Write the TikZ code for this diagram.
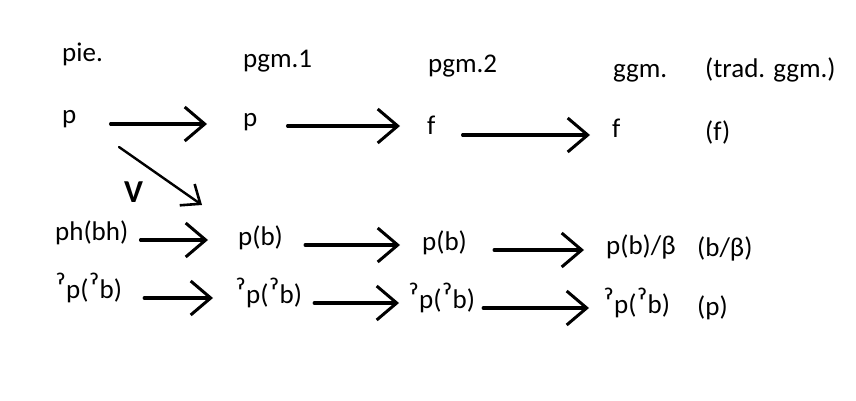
\documentclass[tikz,border=0pt]{standalone}
\usepackage{fontspec}
\setmainfont{Carlito}
\usepackage{tikz}
\usetikzlibrary{positioning,arrows.meta}

\newcommand{\glot}{\raisebox{-1.5pt}{\fontsize{34}{34}\selectfont ˀ}}

\tikzset{
  word/.style={anchor=base west, inner sep=0pt, font=\fontsize{27}{31}\selectfont},
  arr/.style={line width=3.2pt, line cap=round, shorten <=22pt, shorten >=22pt,
    -{Straight Barb[length=20pt,width=34pt,line width=3pt]}},
  diag/.style={line width=2.4pt, line cap=round,
    -{Straight Barb[length=16pt,width=26pt,line width=2.6pt]}}
}

\begin{document}
\begin{tikzpicture}[x=1pt,y=-1pt]
    \useasboundingbox (0,0) rectangle (856,401);
    % column heads
    \node[word] (hpie) at (62,62) {pie.};
    \node[word] (hpgma) at (243,68) {pgm.1};
    \node[word] (hpgmb) at (428,73) {pgm.2};
    \node[word] (hggm) at (613,78) {ggm.};
    \node[word] (htrad) at (705,78) {(trad. ggm.)};

    % first row
    \node[word] (pa) at (62,124) {p};
    \node[word] (pb) at (243,126) {p};
    \node[word] (pc) at (427,135) {f};
    \node[word] (pd) at (612,138) {f};
    \node[word] (pe) at (705,140) {(f)};

    % second row
    \node[word] (ba) at (55,240) {ph(bh)};
    \node[word] (bb) at (238,245) {p(b)};
    \node[word] (bc) at (422,250) {p(b)};
    \node[word] (bd) at (606,254) {p(b)/β};
    \node[word] (be) at (697,256) {(b/β)};

    % third row
    \node[word] (ga) at (55,298) {\glot p(\glot b)};
    \node[word] (gb) at (235,303) {\glot p(\glot b)};
    \node[word] (gc) at (408,308) {\glot p(\glot b)};
    \node[word] (gd) at (603,313) {\glot p(\glot b)};
    \node[word] (ge) at (697,315) {(p)};

    \draw[arr, shorten <=34pt, shorten >=36pt] (pa.base east) -- (pa.base -| pb.west);
    \draw[arr, shorten <=30pt, shorten >=27pt] (pb.base east) -- (pb.base -| pc.west);
    \draw[arr, shorten <=27pt, shorten >=22pt] (pc.base east) -- (pc.base -| pd.west);

    \draw[arr, shorten <=12pt, shorten >=30pt] (ba.base east) -- (ba.base -| bb.west);
    \draw[arr] (bb.base east) -- (bb.base -| bc.west);
    \draw[arr, shorten <=27pt, shorten >=22pt] (bc.base east) -- (bc.base -| bd.west);

    \draw[arr] (ga.base east) -- (ga.base -| gb.west);
    \draw[arr, shorten <=12pt, shorten >=9pt] (gb.base east) -- (gb.base -| gc.west);
    \draw[arr, shorten <=8pt, shorten >=14pt] (gc.base east) -- (gc.base -| gd.west);

    % the split of p
    \draw[diag] ([shift={(57,23)}]pa.base west) -- ([shift={(-36,-40)}]bb.base west);
    \node[word, font=\fontsize{32}{34}\selectfont\bfseries] (verner) at (124,202) {V};
  \end{tikzpicture}
\end{document}
